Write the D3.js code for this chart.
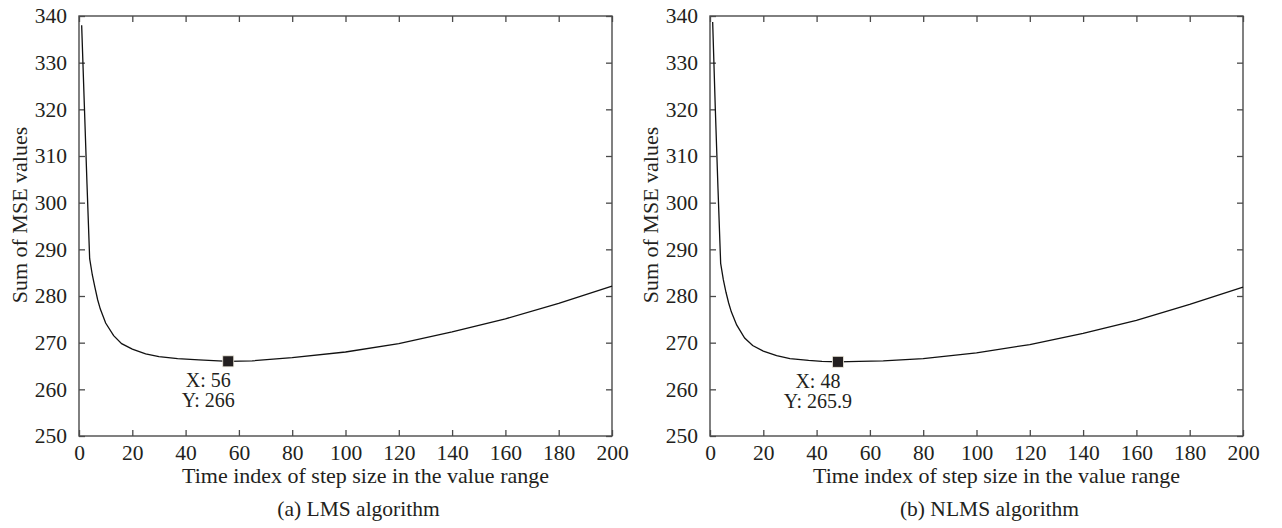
<!DOCTYPE html>
<html>
<head>
<meta charset="utf-8">
<script src="https://cdn.jsdelivr.net/npm/d3@7/dist/d3.min.js"></script>
<style>
html,body{margin:0;padding:0;background:#fff;}
svg{display:block;}
text{font-family:"Liberation Serif","Times New Roman",serif;fill:#231f20;}
</style>
</head>
<body>
<svg id="chart" width="1282" height="528"></svg>
<script>
// ---- data ----
const lmsX = [1, 2, 3, 4, 5, 6, 7, 8, 10, 13, 16, 20, 25, 30, 37, 45, 56, 65, 80, 100, 120, 140, 160, 180, 200];
const lmsY = [338, 321, 304, 288, 284.5, 281.8, 279.2, 277.2, 274.2, 271.5, 269.8, 268.6, 267.6, 267.0, 266.6, 266.3, 266.0, 266.1, 266.8, 268.0, 269.8, 272.3, 275.1, 278.4, 282.1];
const nlmsX = [1, 2, 3, 4, 5, 6, 7, 8, 10, 13, 16, 20, 25, 30, 37, 42, 48, 56, 65, 80, 100, 120, 140, 160, 180, 200];
const nlmsY = [338.7, 320, 303, 287, 283.5, 280.8, 278.5, 276.6, 273.8, 271.0, 269.4, 268.2, 267.2, 266.6, 266.2, 266.0, 265.9, 266.0, 266.1, 266.6, 267.8, 269.6, 272.0, 274.8, 278.2, 281.9];
const xTicks = [0, 20, 40, 60, 80, 100, 120, 140, 160, 180, 200];
const yTicks = [250, 260, 270, 280, 290, 300, 310, 320, 330, 340];
const panels = [
  {xs: lmsX, ys: lmsY, markX: 56, markY: 266, markLabels: ["X: 56", "Y: 266"], caption: "(a) LMS algorithm"},
  {xs: nlmsX, ys: nlmsY, markX: 48, markY: 265.9, markLabels: ["X: 48", "Y: 265.9"], caption: "(b) NLMS algorithm"}
];
const xLabel = "Time index of step size in the value range";
const yLabel = "Sum of MSE values";

// ---- drawing ----
const svg = d3.select("#chart");
const lefts = [79, 710];
const plotW = 533, plotTop = 16, plotBottom = 436;
const fsTick = 21.5, fsLabel = 22, fsMark = 20, fsCap = 21.5;
const axisColor = "#4a4a4a";
const serif = '"Liberation Serif","Times New Roman",serif';

panels.forEach((p, i) => {
  const L = lefts[i];
  const x = d3.scaleLinear().domain([0, 200]).range([L, L + plotW]);
  const y = d3.scaleLinear().domain([250, 340]).range([plotBottom, plotTop]);
  const g = svg.append("g");

  // frame
  g.append("rect").attr("x", L).attr("y", plotTop).attr("width", plotW).attr("height", plotBottom - plotTop)
    .attr("fill", "none").attr("stroke", axisColor).attr("stroke-width", 1.4);

  // axes (inward ticks)
  const ax = [
    d3.axisBottom(x).tickValues(xTicks).tickSize(-6).tickPadding(9),
    d3.axisTop(x).tickValues(xTicks).tickSize(-6).tickFormat(""),
    d3.axisLeft(y).tickValues(yTicks).tickSize(-6).tickPadding(12),
    d3.axisRight(y).tickValues(yTicks).tickSize(-6).tickFormat("")
  ];
  const trans = [`translate(0,${plotBottom})`, `translate(0,${plotTop})`, `translate(${L},0)`, `translate(${L + plotW},0)`];
  ax.forEach((a, k) => {
    const ag = g.append("g").attr("transform", trans[k]).call(a);
    ag.attr("font-family", serif).attr("font-size", fsTick);
    ag.select(".domain").remove();
    ag.selectAll(".tick line").attr("stroke", axisColor).attr("stroke-width", 1.3);
    ag.selectAll(".tick text").attr("fill", "#231f20");
  });

  // curve
  const pts = p.xs.map((v, j) => [v, p.ys[j]]);
  g.append("path").datum(pts)
    .attr("d", d3.line().x(d => x(d[0])).y(d => y(d[1])))
    .attr("fill", "none").attr("stroke", "#111").attr("stroke-width", 1.3);

  // marker
  const mx = x(p.markX), my = y(p.markY);
  g.append("rect").attr("x", mx - 5.5).attr("y", my - 5.5).attr("width", 11).attr("height", 11)
    .attr("fill", "#231f20").attr("stroke", "#eeeadc").attr("stroke-width", 0.8);
  g.append("text").attr("x", mx - 20).attr("y", my + 26).attr("text-anchor", "middle")
    .attr("font-size", fsMark).text(p.markLabels[0]);
  g.append("text").attr("x", mx - 20).attr("y", my + 46).attr("text-anchor", "middle")
    .attr("font-size", fsMark).text(p.markLabels[1]);

  // axis labels
  const cx = L + plotW / 2 + 20;
  g.append("text").attr("x", cx).attr("y", 483).attr("text-anchor", "middle")
    .attr("font-size", fsLabel).text(xLabel);
  g.append("text").attr("x", cx - 7).attr("y", 516).attr("text-anchor", "middle")
    .attr("font-size", fsCap).text(p.caption);
  g.append("text").attr("transform", `translate(${L - 52},215) rotate(-90)`)
    .attr("text-anchor", "middle").attr("font-size", fsLabel).text(yLabel);
});
</script>
</body>
</html>
